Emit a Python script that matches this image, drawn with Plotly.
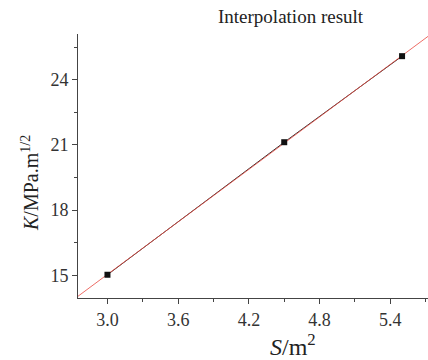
import numpy as np
import plotly.graph_objects as go

# Data
area_s = [3.0, 4.5, 5.5]          # S / m^2
k_vals = [15.02, 21.12, 25.08]    # K / MPa.m^1/2
x_ticks = [3.0, 3.6, 4.2, 4.8, 5.4]
y_ticks = [15, 18, 21, 24]
x_range = [2.75, 5.72]
y_range = [13.95, 26.1]

# linear fit across the axis range
coef = np.polyfit(area_s, k_vals, 1)
fit_x = np.array(x_range)
fit_y = np.polyval(coef, fit_x)

serif = "Liberation Serif"

fig = go.Figure()
fig.add_trace(go.Scatter(x=area_s, y=k_vals, mode="lines",
                         line=dict(color="#333333", width=1), showlegend=False))
fig.add_trace(go.Scatter(x=fit_x, y=fit_y, mode="lines",
                         line=dict(color="#e8483f", width=0.8), showlegend=False))
fig.add_trace(go.Scatter(x=area_s, y=k_vals, mode="markers",
                         marker=dict(symbol="square", size=6, color="#111111"),
                         showlegend=False))

axis_common = dict(
    showgrid=False, zeroline=False, showline=True, linecolor="#444444", linewidth=1,
    ticks="outside", ticklen=5, tickcolor="#444444", tickwidth=1,
    tickfont=dict(family=serif, size=18, color="#333333"),
    minor=dict(ticks="outside", ticklen=3, tickcolor="#444444", tickwidth=1),
)

fig.update_xaxes(range=x_range, tickvals=x_ticks,
                 ticktext=[f"{v:.1f}" for v in x_ticks],
                 minor_dtick=0.3, minor_tick0=3.0, **axis_common)
fig.update_yaxes(range=y_range, tickvals=y_ticks,
                 ticktext=[str(v) for v in y_ticks],
                 minor_dtick=1.5, minor_tick0=15, **axis_common)

plot_w = 428 - 78
plot_h = 360 - 34 - 62

fig.update_layout(
    width=428, height=360,
    margin=dict(l=78, r=0, t=34, b=62),
    paper_bgcolor="white", plot_bgcolor="white",
    annotations=[
        dict(text="Interpolation result",
             x=(291 - 78) / plot_w, y=(298 - 17) / plot_h,
             xref="paper", yref="paper", xanchor="center", yanchor="middle",
             showarrow=False, font=dict(family=serif, size=19, color="#222222")),
        dict(text="<i>S</i>/m<sup>2</sup>",
             x=(293 - 78) / plot_w, y=-(345 - 298) / plot_h,
             xref="paper", yref="paper", xanchor="center", yanchor="middle",
             showarrow=False, font=dict(family=serif, size=24, color="#222222")),
        dict(text="<i>K</i>/MPa.m<sup>1/2</sup>",
             x=-(78 - 30) / plot_w, y=(298 - 183) / plot_h,
             xref="paper", yref="paper", xanchor="center", yanchor="middle",
             textangle=-90, showarrow=False,
             font=dict(family=serif, size=20, color="#222222")),
    ],
)

fig.write_html("out.html")
